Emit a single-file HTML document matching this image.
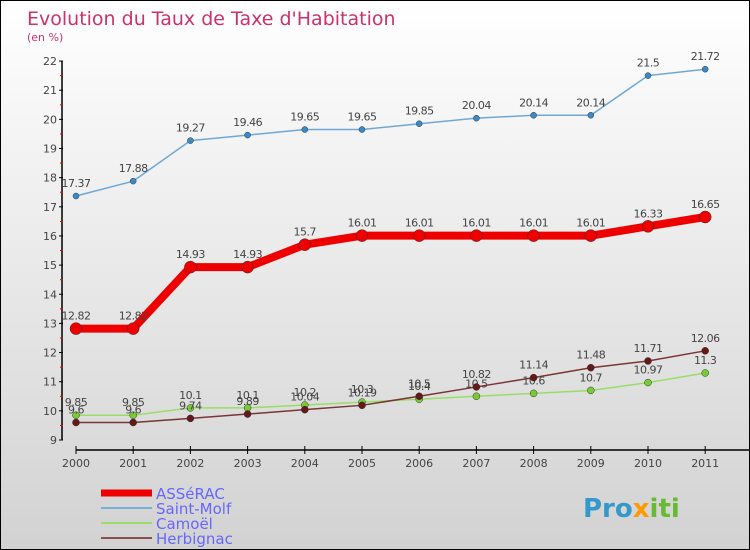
<!DOCTYPE html>
<html><head><meta charset="utf-8"><style>
body{margin:0}
#wrap{width:748px;height:548px;border:1px solid #000;background:linear-gradient(#ffffff,#d2d2d2);position:relative;font-family:"DejaVu Sans","Liberation Sans",sans-serif;overflow:hidden}
</style></head><body>
<div id="wrap">
<svg id="chart" width="748" height="548"></svg>
</div>
<script>
const years=["2000","2001","2002","2003","2004","2005","2006","2007","2008","2009","2010","2011"];
const asserac=[12.82,12.82,14.93,14.93,15.7,16.01,16.01,16.01,16.01,16.01,16.33,16.65];
const saintMolf=[17.37,17.88,19.27,19.46,19.65,19.65,19.85,20.04,20.14,20.14,21.5,21.72];
const camoel=[9.85,9.85,10.1,10.1,10.2,10.3,10.4,10.5,10.6,10.7,10.97,11.3];
const herbignac=[9.6,9.6,9.74,9.89,10.04,10.19,10.5,10.82,11.14,11.48,11.71,12.06];
const yTicks=[9,10,11,12,13,14,15,16,17,18,19,20,21,22];
const NS="http://www.w3.org/2000/svg";
const svg=document.getElementById('chart');
const X=i=>75+i*57.2;
const Y=v=>439-(v-9)*29.15;
function mk(t,a,p){const e=document.createElementNS(NS,t);for(const k in a)e.setAttribute(k,a[k]);(p||svg).appendChild(e);return e;}
let t=mk('text',{x:26,y:24,fill:'#c8336b','font-size':19});t.textContent="Evolution du Taux de Taxe d'Habitation";


t=mk('text',{x:26,y:40,fill:'#c8336b','font-size':11});t.textContent="(en %)";


let ax=mk('line',{x1:61,y1:Y(22),x2:61,y2:Y(9),stroke:'#000','stroke-width':1.5});


yTicks.forEach(v=>{
 mk('line',{x1:58,x2:62,y1:Y(v),y2:Y(v),stroke:'#000'});
 if(v<22)mk('line',{x1:59,x2:62,y1:Y(v+0.5),y2:Y(v+0.5),stroke:'#e00'});
 const l=mk('text',{x:56,y:Y(v)+4,'text-anchor':'end','font-size':11,fill:'#444'});l.textContent=v;
 
 
});
ax=mk('line',{x1:X(0),y1:449,x2:748,y2:449,stroke:'#000','stroke-width':1.5});


years.forEach((y,i)=>{
 mk('line',{x1:X(i),x2:X(i),y1:445,y2:453,stroke:'#000'});
 const l=mk('text',{x:X(i),y:466,'text-anchor':'middle','font-size':11,fill:'#444'});l.textContent=y;
 
 
});
function series(d,name,col,w,r,dot){
 const g=mk('g',{});
 
 
 mk('polyline',{points:d.map((v,i)=>X(i)+','+Y(v)).join(' '),fill:'none',stroke:col,'stroke-width':w,'stroke-linejoin':'round'},g);
 d.forEach((v,i)=>{
  const c=mk('circle',{cx:X(i),cy:Y(v),r:r,fill:dot,stroke:'#333','stroke-width':0.5},g);
  
  
  const l=mk('text',{x:X(i),y:Y(v)-9,'text-anchor':'middle','font-size':11,fill:'#444','letter-spacing':'-0.5'},g);l.textContent=v;
  
  
 });
}
series(saintMolf,'saint-molf','#6fa8d6',1.5,3,'#3b8ac8');
series(asserac,'asserac','#ee0000',8,6,'#ee0000');
series(camoel,'camoel','#99dd66',1.5,3.5,'#77cc33');
series(herbignac,'herbignac','#7a3535',1.5,3.5,'#661818');
const leg=[["ASSéRAC","#ee0000",7],["Saint-Molf","#7ab0d6",2],["Camoël","#99dd66",2],["Herbignac","#8a5050",2]];
leg.forEach((l,i)=>{
 const y=492+i*15;
 const g=mk('g',{});
 
 
 mk('line',{x1:100,x2:151,y1:y,y2:y,stroke:l[1],'stroke-width':l[2]},g);
 const tx=mk('text',{x:155,y:y+6,'font-size':15,fill:'#6666ff'},g);tx.textContent=l[0];
});
const p=mk('text',{x:582,y:516,'font-size':26,'font-weight':'bold',fill:'#3399cc'});
p.innerHTML='<tspan fill="#3399cc">Pro</tspan><tspan fill="#ff9900">x</tspan><tspan fill="#66bb33">iti</tspan>';


</script>
</body></html>
